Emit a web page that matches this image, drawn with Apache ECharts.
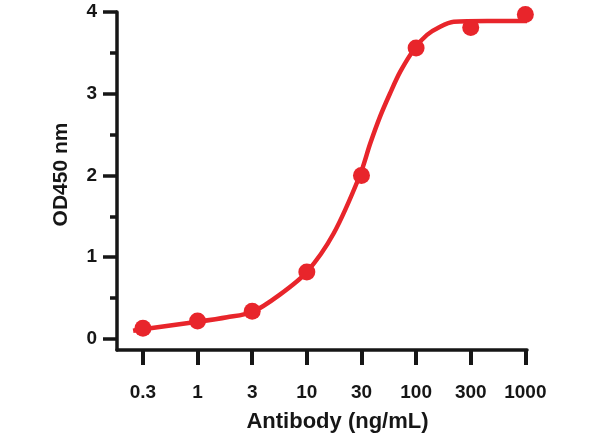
<!DOCTYPE html>
<html>
<head>
<meta charset="utf-8">
<script src="https://cdn.jsdelivr.net/npm/echarts@6/dist/echarts.min.js"></script>
<style>
  html, body { margin: 0; padding: 0; background: #ffffff; }
  #chart { width: 600px; height: 447px; }
</style>
</head>
<body>
<div id="chart"></div>
<script>
// Concentration categories (equally spaced on the axis)
const xLabels = ['0.3', '1', '3', '10', '30', '100', '300', '1000'];
// Measured OD450 values (dots)
const odValues = [0.13, 0.22, 0.34, 0.82, 2.0, 3.56, 3.81, 3.97];
// Fitted curve (x in category-index units)
const fitX = [-0.18, 0, 1, 1.54, 2, 2.5, 3, 3.49, 3.97, 4.16, 4.34, 4.52, 4.71, 4.98, 5.20, 5.44, 5.69, 6.3, 7.03];
const fitY = [0.10, 0.12, 0.21, 0.265, 0.33, 0.54, 0.82, 1.29, 2.0, 2.39, 2.72, 3.0, 3.27, 3.56, 3.72, 3.82, 3.88, 3.89, 3.89];
// Tick values
const yMajorTicks = [0, 1, 2, 3, 4];
const yMinorTicks = [0.5, 1.5, 2.5, 3.5];
const xTicks = xLabels.map((_, i) => i);

const RED = '#e8252b';
const INK = '#161616';
const FONT = '"Liberation Sans", Arial, Helvetica, sans-serif';

const chart = echarts.init(document.getElementById('chart'), null, { renderer: 'canvas' });

chart.setOption({
  backgroundColor: '#ffffff',
  animation: false,
  grid: { left: 117, right: 73, top: 12, bottom: 97, containLabel: false, outerBoundsMode: 'none' },
  xAxis: {
    type: 'value',
    min: -0.475,
    max: 7.03,
    name: 'Antibody (ng/mL)',
    nameLocation: 'middle',
    nameGap: 61,
    nameTextStyle: { fontFamily: FONT, fontWeight: 'bold', fontSize: 22, color: INK, padding: [0, 0, 0, 31] },
    axisLine: { show: true, onZero: false, lineStyle: { color: INK, width: 3.5 } },
    axisTick: { show: true, length: 15, customValues: xTicks, lineStyle: { color: INK, width: 4 } },
    axisLabel: {
      show: true, margin: 33, customValues: xTicks,
      formatter: v => xLabels[Math.round(v)],
      fontFamily: FONT, fontWeight: 'bold', fontSize: 19, color: INK
    },
    splitLine: { show: false }
  },
  yAxis: [
    {
      type: 'value',
      min: -0.135,
      max: 4,
      position: 'left',
      name: 'OD450 nm',
      nameLocation: 'middle',
      nameGap: 45,
      nameTextStyle: { fontFamily: FONT, fontWeight: 'bold', fontSize: 21, color: INK, padding: [0, 0, 0, 13] },
      axisLine: { show: true, onZero: false, lineStyle: { color: INK, width: 3.5 } },
      axisTick: { show: true, length: 14, customValues: yMajorTicks, lineStyle: { color: INK, width: 3.5 } },
      axisLabel: {
        show: true, margin: 20, customValues: yMajorTicks,
        fontFamily: FONT, fontWeight: 'bold', fontSize: 19, color: INK
      },
      splitLine: { show: false }
    },
    {
      type: 'value',
      min: -0.135,
      max: 4,
      position: 'left',
      offset: 0,
      axisLine: { show: false, onZero: false },
      axisTick: { show: true, length: 7, customValues: yMinorTicks, lineStyle: { color: INK, width: 3.5 } },
      axisLabel: { show: false },
      splitLine: { show: false }
    }
  ],
  series: [
    {
      type: 'line',
      data: fitX.map((x, i) => [x, fitY[i]]),
      smooth: 0.3,
      showSymbol: false,
      symbol: 'none',
      lineStyle: { color: RED, width: 4.5 },
      z: 2
    },
    {
      type: 'scatter',
      data: odValues.map((v, i) => [i, v]),
      symbol: 'circle',
      symbolSize: 17,
      itemStyle: { color: RED, opacity: 1 },
      z: 3
    }
  ]
});
</script>
</body>
</html>
